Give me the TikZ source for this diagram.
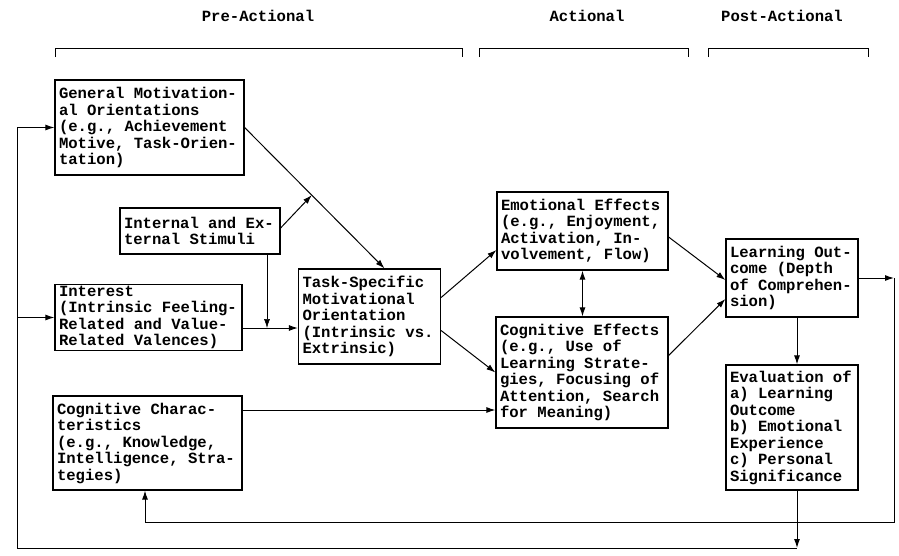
\documentclass[tikz,border=0pt]{standalone}
\usepackage{fontspec}
\setmonofont{Liberation Mono}
\usetikzlibrary{calc,arrows.meta}

\begin{document}
\begin{tikzpicture}[x=1pt, y=-1pt,
  font=\ttfamily\bfseries\fontsize{15.6}{16.5}\selectfont,
  box/.style={draw, line width=1.2pt, inner xsep=4pt, inner ysep=0pt, align=flush left},
  link/.style={->, >={Latex[length=9pt,width=6pt]}, line width=1pt}]
\useasboundingbox (0,0) rectangle (899,555);

% phases
\node (pre) at (258,16) {Pre-Actional};
\node (act) at (587,16) {Actional};
\node (post) at (782,16) {Post-Actional};
\draw[line width=1pt] (55,57) -- (55,48) -- (462,48) -- (462,57);
\draw[line width=1pt] (479,57) -- (479,48) -- (688,48) -- (688,57);
\draw[line width=1pt] (708,57) -- (708,48) -- (868,48) -- (868,57);

% boxes
\node[box, text width=181pt, minimum height=95pt] at (149.5,127.5) (gmo) {General Motivation-\\al Orientations\\(e.g., Achievement\\Motive, Task-Orien-\\tation)};
\node[box, text width=152pt, minimum height=46pt] at (200,231) (stim) {Internal and Ex-\\ternal Stimuli};
\node[box, text width=179pt, minimum height=66pt] at (148.5,317.5) (int) {Interest\\(Intrinsic Feeling-\\Related and Value-\\Related Valences)};
\node[box, text width=181pt, minimum height=94pt] at (147.5,443) (cch) {Cognitive Charac-\\teristics\\(e.g., Knowledge,\\Intelligence, Stra-\\tegies)};
\node[box, text width=134pt, minimum height=95pt] at (369.5,316.5) (tsm) {Task-Specific\\Motivational\\Orientation\\(Intrinsic vs.\\Extrinsic)};
\node[box, text width=163pt, minimum height=78pt] at (582.5,231) (emo) {Emotional Effects\\(e.g., Enjoyment,\\Activation, In-\\volvement, Flow)};
\node[box, text width=164pt, minimum height=111pt] at (582,372.5) (cog) {Cognitive Effects\\(e.g., Use of\\Learning Strate-\\gies, Focusing of\\Attention, Search\\for Meaning)};
\node[box, text width=124pt, minimum height=78pt] at (792,278) (lo) {Learning Out-\\come (Depth\\of Comprehen-\\sion)};
\node[box, text width=124pt, minimum height=125pt] at (792,427.5) (eval) {Evaluation of\\a) Learning\\Outcome\\b) Emotional\\Experience\\c) Personal\\Significance};

% helper points
\coordinate (tsmtop) at ([xshift=15pt]tsm.north);
\coordinate (j1) at (267,328);
\coordinate (rc) at (894,278);
\coordinate (bl) at (145,522);
\coordinate (bb) at (797,548);
\coordinate (lc) at (17,548);

% connectors
\draw[link] (gmo.east) -- (tsmtop);
\draw[link] ([yshift=3pt]stim.east) -- ($(gmo.east)!0.48!(tsmtop)$);
\draw[link, line width=0.6pt] (j1 |- stim.south) -- (j1);
\draw[link] (int.east |- j1) -- (tsm.west |- j1);
\draw[link] ([yshift=19pt]tsm.east) -- ([yshift=-19pt]emo.west);
\draw[link] ([yshift=-14pt]tsm.east) -- (cog.west);
\draw[link, <->] (emo.south) -- (emo.south |- cog.north);
\draw[link] ([yshift=-6pt]emo.east) -- ([yshift=-2pt]lo.west);
\draw[link] ([yshift=17pt]cog.east) -- ([yshift=-21pt]lo.west);
\draw[link] ([xshift=5pt]lo.south) -- ([xshift=5pt]eval.north);
\draw[link] ([yshift=33pt]cch.east) -- ([yshift=33pt]cch.east -| cog.west);
\draw[link] (lo.east) -- (rc);
\draw[link] (rc) |- (bl) -- (bl |- cch.south);
\draw[link] ([xshift=5pt]eval.south) -- (bb);
\draw[link] (bb) -| (gmo.west -| lc) -- (gmo.west);
\draw[link] (int.west -| lc) -- (int.west);

\end{tikzpicture}
\end{document}
